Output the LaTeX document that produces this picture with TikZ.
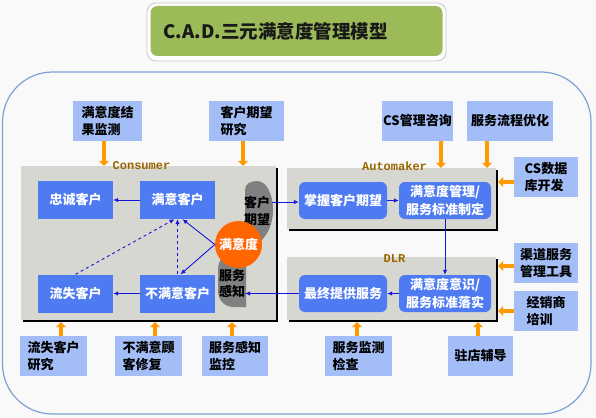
\documentclass[tikz,border=0pt]{standalone}
\usepackage{fontspec}
\setmainfont{Noto Sans CJK SC}
\newfontfamily\labelfont{Liberation Mono}
\usepackage{tikz}
\usetikzlibrary{arrows.meta, shadows}
\definecolor{titlegreen}{RGB}{155, 187, 89}
\definecolor{panelgray}{RGB}{215, 215, 209}
\definecolor{boxblue}{RGB}{79, 123, 242}
\definecolor{lightblue}{RGB}{163, 189, 246}
\definecolor{arrowblue}{RGB}{20, 20, 225}
\definecolor{arroworange}{RGB}{255, 153, 0}
\definecolor{satorange}{RGB}{255, 102, 0}
\definecolor{labelbrown}{RGB}{153, 102, 0}
\definecolor{frameblue}{RGB}{125, 160, 214}
\definecolor{shapegray}{RGB}{128, 128, 128}
\definecolor{bg}{RGB}{249, 249, 249}

\begin{document}
\begin{tikzpicture}[x=1pt, y=-1pt,
  panel/.style={fill=panelgray, inner sep=0,
    drop shadow={shadow xshift=2pt, shadow yshift=-2pt, fill=black, opacity=1}},
  paneltitle/.style={font=\labelfont\bfseries\fontsize{12}{12}\selectfont, text=labelbrown, inner sep=0},
  cbox/.style={fill=boxblue, text=white, minimum width=75, minimum height=38, inner sep=0,
    align=center, font=\bfseries\fontsize{13}{18.5}\selectfont},
  abox/.style={cbox, rounded corners=6, minimum height=37},
  infobox/.style={fill=lightblue, minimum height=40, inner sep=0, align=left,
    font=\bfseries\fontsize{13}{16.5}\selectfont},
  feed/.style={arroworange, line width=3.2, -{Triangle[width=10pt, length=5pt]}},
  flow/.style={arrowblue, line width=0.9, -{Latex[length=5pt, width=4.5pt]}},
  shapefill/.style={fill=shapegray}]
  \useasboundingbox (0, 0) rectangle (596, 417);
  \fill[bg] (0, 0) rectangle (596, 417);

  \draw[fill=white, draw=black!22, line width=0.8, rounded corners=9] (147, 3) rectangle (446, 61);
  \node[fill=titlegreen, rounded corners=7, minimum height=50, text width=266, inner xsep=13,
    align=left, text=black!90, font=\bfseries\fontsize{18.5}{21}\selectfont] (title) at (296.5, 31)
    {C.A.D.三元满意度管理模型};

  \draw[frameblue, line width=1.2, rounded corners=50] (2.5, 72) rectangle (591, 414);

  \node[panel, minimum width=255, minimum height=154] (con) at (148.5, 243) {};
  \node[panel, minimum width=209, minimum height=61] (auto) at (391.5, 198.5) {};
  \node[panel, minimum width=209, minimum height=63] (dlr) at (391.5, 288.5) {};
  \node[paneltitle] (contitle) at ([xshift=-7]con.north) {Consumer};
  \node[paneltitle] (autotitle) at ([xshift=3, yshift=2]auto.north) {Automaker};
  \node[paneltitle] (dlrtitle) at ([xshift=3, yshift=-1.5]dlr.north) {DLR};

  \fill[shapefill] (245, 240) -- (245, 190) .. controls (245, 184) and (250, 181) .. (257, 181)
    .. controls (267, 181) and (273, 195) .. (273, 210)
    .. controls (273, 224) and (268, 234) .. (260, 242) -- cycle;
  \fill[shapefill] (246, 250) -- (246, 307) -- (234, 307)
    .. controls (224, 307) and (218, 300) .. (218, 290) -- (218, 270)
    .. controls (218, 260) and (224, 253) .. (232, 250) -- cycle;
  \node[inner sep=0, align=center, font=\bfseries\fontsize{13}{17}\selectfont] (expectlabel)
    at (257, 210.5) {客户\\期望};
  \node[inner sep=0, align=center, font=\bfseries\fontsize{13}{16}\selectfont] (perceptlabel)
    at (232, 284) {服务\\感知};
  \node[circle, fill=satorange, text=white, minimum size=47, inner sep=0,
    font=\bfseries\fontsize{13}{14}\selectfont] (sat) at (238.5, 244.5) {满意度};

  \node[cbox] (loyal) at (75.5, 200) {忠诚客户};
  \node[cbox] (happy) at (177.5, 200) {满意客户};
  \node[cbox] (lost) at (75.5, 293.5) {流失客户};
  \node[cbox] (unhappy) at (177.5, 293.5) {不满意客户};
  \node[abox, minimum width=88] (grasp) at (343, 200.5) {掌握客户期望};
  \node[abox, minimum width=92] (manage) at (445, 200.5) {满意度管理/\\服务标准制定};
  \node[abox, minimum width=88] (serve) at (343, 293.5) {最终提供服务};
  \node[abox, minimum width=92] (implement) at (445, 293.5) {满意度意识/\\服务标准落实};

  \foreach \n/\x/\w/\t in {tA/107.5/69/{满意度结\\果监测}, tB/246.5/75/{客户期望\\研究},
      tC/417.5/71/{CS管理咨询}, tD/510/86/{服务流程优化}}
    \node[infobox, minimum width=\w] (\n) at (\x, 121) {\t};
  \foreach \n/\y/\t in {rA/177/{CS数据\\库开发}, rB/263/{渠道服务\\管理工具}, rC/311/{经销商\\培训}}
    \node[infobox, minimum width=64] (\n) at (546, \y) {\t};
  \foreach \n/\x/\w/\t in {bA/53.5/67/{流失客户\\研究}, bB/148.5/67/{不满意顾\\客修复},
      bC/235/66/{服务感知\\监控}, bD/358.5/67/{服务监测\\检查}, bE/480.5/65/{驻店辅导}}
    \node[infobox, minimum width=\w] (\n) at (\x, 356) {\t};

  \foreach \b/\p/\d in {tA/con/-3.5, tB/con/-3.5, tC/auto/23.5, tD/auto/-23} {
    \coordinate (s) at ([xshift=\d]\b.south);
    \draw[feed] (s) -- (s |- \p.north);
  }
  \foreach \b/\p/\d in {bA/con/7.5, bB/con/6.5, bC/con/-3, bD/dlr/-1.5, bE/dlr/-2.5} {
    \coordinate (s) at ([xshift=\d]\b.north);
    \draw[feed] (s) -- ([yshift=-2]s |- \p.south);
  }
  \foreach \b/\p/\d in {rA/auto/-5, rB/dlr/-3, rC/dlr/0} {
    \coordinate (s) at ([yshift=\d]\b.west);
    \draw[feed] (s) -- ([xshift=2]s -| \p.east);
  }

  \coordinate (expect) at (272, 202);
  \coordinate (percept) at (245, 293.5);
  \draw[flow] (happy.west) -- (loyal.east);
  \draw[flow] (unhappy.west) -- (lost.east);
  \draw[flow] (sat.west) -- ([xshift=5]happy.south);
  \draw[flow] (sat.west) -- ([xshift=3]unhappy.north);
  \draw[flow, dashed] (lost.north) -- ([xshift=-3]happy.south);
  \draw[flow, dashed] (unhappy.north) -- (happy.south);
  \draw[flow] (expect) -- (expect -| grasp.west);
  \draw[flow] (serve.west) -- (percept);
  \draw[flow] (grasp.east) -- (manage.west);
  \draw[flow] (manage.south) -- (implement.north);
  \draw[flow] (implement.west) -- (serve.east);
\end{tikzpicture}
\end{document}
